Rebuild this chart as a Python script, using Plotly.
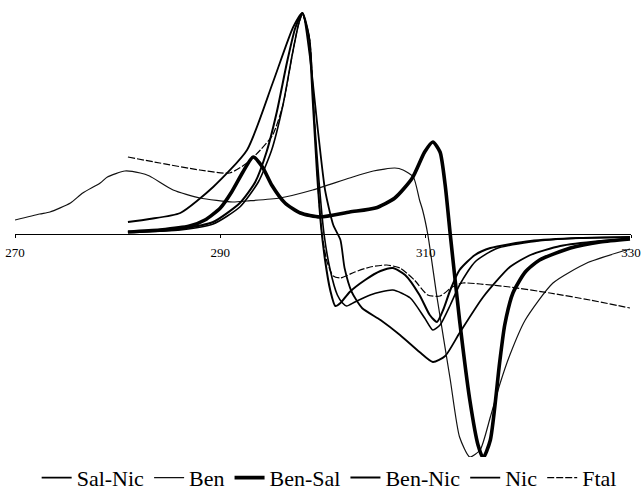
import plotly.graph_objects as go

# Field (x) and signal (y, arbitrary units)
ben_x = [270.0, 272.4, 273.4, 275.4, 276.6, 278.3, 279.0, 280.7, 282.2, 283.1, 285.4, 288.0, 291.2, 292.6,
         295.8, 299.0, 302.6, 304.9, 307.0, 307.8, 308.8, 309.4, 309.7, 310.2, 311.1, 312.4, 313.3, 314.3,
         315.3, 316.3, 317.2, 318.2, 319.7, 322.4, 325.7, 328.9, 329.9]
ben_y = [14, 20, 22, 31, 41, 51, 57, 63, 61, 58, 44, 36, 32, 33,
         36, 44, 56, 63, 66, 64, 57, 34, 24, 0, -63, -146, -203, -223,
         -216, -183, -151, -121, -86, -49, -29, -18, -15]

bensal_x = [281.0, 284.1, 287.0, 288.5, 290.0, 291.1, 292.2, 293.2, 294.1, 295.0, 296.3, 297.8, 299.7,
            302.6, 305.1, 307.0, 308.7, 309.9, 310.7, 311.4, 311.9, 312.4, 313.3, 314.3, 315.1, 315.6,
            316.3, 317.2, 317.7, 318.5, 319.7, 321.1, 324.1, 327.0, 329.9]
bensal_y = [2, 4, 8, 14, 26, 42, 62, 77, 67, 49, 31, 21, 17,
            22, 26, 36, 56, 82, 92, 82, 49, -1, -86, -166, -211, -224,
            -206, -129, -91, -59, -38, -26, -14, -8, -5]

salnic_x = [281.0, 283.1, 286.1, 289.3, 292.6, 295.1, 297.1, 298.0, 298.7, 299.5, 300.2, 301.0, 301.7,
            302.1, 302.8, 303.8, 305.6, 307.5, 309.4, 310.7, 311.9, 313.3, 315.6, 318.2, 320.2, 323.1,
            327.0, 329.9]
salnic_y = [12, 15, 21, 47, 84, 151, 207, 221, 179, 104, 44, 9, -6,
            -34, -58, -74, -86, -101, -118, -128, -122, -99, -63, -33, -21, -12,
            -7, -5]

bennic_x = [281.0, 284.1, 286.1, 289.3, 291.9, 293.4, 294.5, 295.5, 296.5, 297.3, 298.0, 298.6, 299.0,
            299.4, 299.8, 300.2, 300.7, 301.2, 301.7, 302.6, 304.1, 305.6, 306.8, 308.0, 309.4, 310.4,
            311.1, 311.7, 312.4, 313.3, 314.8, 316.3, 320.2, 325.0, 329.9]
bennic_y = [2, 3, 5, 12, 31, 52, 82, 122, 172, 206, 221, 199, 134,
            64, 9, -26, -56, -72, -69, -58, -46, -37, -34, -41, -61, -81,
            -88, -76, -56, -36, -21, -14, -7, -4, -3]

nic_x = [281.0, 284.1, 286.1, 289.3, 291.9, 293.7, 295.0, 296.1, 297.0, 297.6, 298.0, 298.7, 299.1,
         299.6, 300.1, 300.7, 301.4, 301.9, 302.3, 303.1, 304.6, 306.8, 308.5, 309.9, 310.7, 311.4,
         312.4, 313.3, 314.8, 316.8, 320.2, 325.0, 329.9]
nic_y = [2, 3, 4, 10, 27, 52, 84, 129, 179, 209, 221, 194, 124,
         54, 0, -36, -61, -69, -72, -68, -61, -56, -64, -84, -96, -91,
         -71, -51, -28, -15, -8, -4, -3]

ftal_x = [281.0, 284.1, 288.0, 290.9, 292.6, 293.9, 295.1, 296.1, 297.0, 297.6, 298.0, 298.7, 299.1,
          299.6, 299.9, 300.4, 301.0, 301.7, 303.1, 304.6, 306.2, 307.5, 308.9, 310.2, 311.4, 312.6,
          313.6, 315.3, 318.2, 322.1, 326.0, 329.9]
ftal_y = [77, 71, 64, 61, 71, 84, 99, 129, 179, 209, 219, 194, 124,
          34, 0, -28, -42, -44, -38, -33, -31, -34, -46, -61, -62, -53,
          -49, -50, -53, -59, -66, -74]

tick_vals = [270, 290, 310, 330]
tick_text = ["270", "290", "310", "330"]

series = [
    ("Sal-Nic", salnic_x, salnic_y, dict(color="black", width=1.8)),
    ("Ben", ben_x, ben_y, dict(color="#111", width=1.2)),
    ("Ben-Sal", bensal_x, bensal_y, dict(color="black", width=3.6)),
    ("Ben-Nic", bennic_x, bennic_y, dict(color="black", width=2.0)),
    ("Nic", nic_x, nic_y, dict(color="black", width=1.6)),
    ("Ftal", ftal_x, ftal_y, dict(color="black", width=1.2, dash="7px,2px")),
]

SERIF = "Liberation Serif"

fig = go.Figure()
for name, xs, ys, ln in series:
    fig.add_trace(go.Scatter(x=xs, y=ys, mode="lines", name=name,
                             line=dict(shape="spline", smoothing=0.6, **ln)))

fig.update_layout(
    width=641, height=504,
    margin=dict(l=15, r=10, t=4, b=40),
    paper_bgcolor="white", plot_bgcolor="white",
    showlegend=True,
    legend=dict(orientation="h", x=0.51, xanchor="center", y=-0.03, yanchor="middle",
                font=dict(family=SERIF, size=22, color="black"),
                itemwidth=30, tracegroupgap=0),
    xaxis=dict(range=[270, 330], tickvals=tick_vals, ticktext=tick_text,
               showgrid=False, zeroline=False, showline=True, linecolor="black", linewidth=1,
               ticks="outside", ticklen=3, tickcolor="black", automargin=False,
               anchor="free", position=0.5, ticklabelstandoff=3,
               tickfont=dict(family=SERIF, size=13, color="black")),
    yaxis=dict(range=[-230, 230], visible=False),
)

fig.write_html("out.html", config={"displayModeBar": False},
               post_script="document.body.style.margin='0';")
